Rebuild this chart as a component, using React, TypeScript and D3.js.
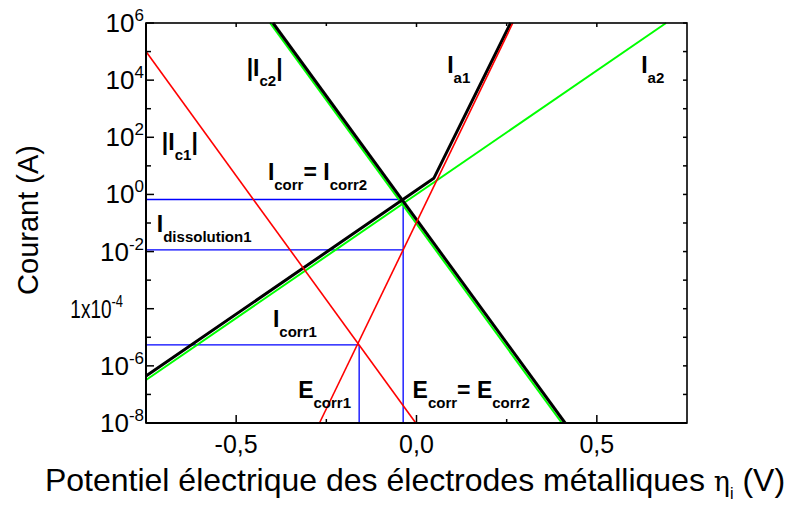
import React from 'react';
import * as d3 from 'd3';

// ---------- data ----------
const xDomain = [-0.75, 0.75];
const yDomain = [1e-8, 1e6];
const xMajorTicks = [-0.5, 0, 0.5];
const xTickLabels = ['-0,5', '0,0', '0,5'];
const xMinorTicks = [-0.25, 0.25];
const yMajorExps = [-8, -6, -4, -2, 0, 2, 4, 6];
const yTickBases = ['10', '10', '1x10', '10', '10', '10', '10', '10'];
const yTickSups = ['-8', '-6', '-4', '-2', '0', '2', '4', '6'];
const yMinorExps = [-7, -5, -3, -1, 1, 3, 5];

// Red: metal 1 partial currents
const ic1Eta = [-0.75, -0.002];
const ic1I = [1e5, 1e-8];
const ia1Eta = [-0.269, 0.267];
const ia1I = [1e-8, 1e6];
// Green: metal 2 partial currents
const ic2Eta = [-0.406, 0.403];
const ic2I = [1e6, 1e-8];
const ia2Eta = [-0.75, 0.692];
const ia2I = [3.2e-7, 1e6];
// Black: total currents
const tcEta = [-0.398, 0.412];
const tcI = [1e6, 1e-8];
const taEta = [-0.75, 0.048, 0.261];
const taI = [4.4e-7, 3.66, 1e6];
// Blue guides
const eCorr1 = -0.159;
const iCorr1 = 5.4e-6;
const eCorr = -0.037;
const iCorr = 0.665;
const iDiss1 = 0.0114;

// ---------- layout ----------
const W = 794;
const H = 506;
const L = 146, R = 687, T = 23, B = 423;
const FONT = "'Liberation Sans', Arial, sans-serif";

const x = d3.scaleLinear().domain(xDomain).range([L, R]);
const y = d3.scaleLog().domain(yDomain).range([B, T]);

const line = d3.line<[number, number]>().x(d => x(d[0])).y(d => y(d[1]));
const zip = (a: number[], b: number[]) => a.map((v, i) => [v, b[i]] as [number, number]);

type Part = { t: string; sub?: boolean };
function Label({ eta, cur, parts }: { eta: number; cur: number; parts: Part[] }) {
  let prevSub = false;
  return (
    <text x={x(eta)} y={y(cur)} fontFamily={FONT} fontWeight="bold" fontSize={23} fill="#000">
      {parts.map((p, i) => {
        let dy = 0;
        if (p.sub && !prevSub) dy = 10;
        if (!p.sub && prevSub) dy = -10;
        prevSub = !!p.sub;
        return (
          <tspan key={i} dy={dy} fontSize={p.sub ? 15 : 23}>
            {p.t}
          </tspan>
        );
      })}
    </text>
  );
}

export default function App() {
  return (
    <svg width={W} height={H} style={{ position: 'absolute', left: 0, top: 0, background: '#fff' }}>
      <rect x={0} y={0} width={W} height={H} fill="#fff" />
      {/* blue guides */}
      <g stroke="#0000ff" strokeWidth={1.3} fill="none">
        <line x1={x(xDomain[0])} x2={x(eCorr1)} y1={y(iCorr1)} y2={y(iCorr1)} />
        <line x1={x(eCorr1)} x2={x(eCorr1)} y1={y(iCorr1)} y2={y(yDomain[0])} />
        <line x1={x(xDomain[0])} x2={x(eCorr)} y1={y(iCorr)} y2={y(iCorr)} />
        <line x1={x(xDomain[0])} x2={x(eCorr)} y1={y(iDiss1)} y2={y(iDiss1)} />
        <line x1={x(eCorr)} x2={x(eCorr)} y1={y(iCorr)} y2={y(yDomain[0])} />
      </g>
      {/* green */}
      <g stroke="#00ff00" strokeWidth={2} fill="none">
        <path d={line(zip(ic2Eta, ic2I)) || ''} />
        <path d={line(zip(ia2Eta, ia2I)) || ''} />
      </g>
      {/* black */}
      <g stroke="#000" strokeWidth={3} fill="none" strokeLinejoin="miter">
        <path d={line(zip(tcEta, tcI)) || ''} />
        <path d={line(zip(taEta, taI)) || ''} />
      </g>
      {/* red */}
      <g stroke="#ff0000" strokeWidth={1.6} fill="none">
        <path d={line(zip(ic1Eta, ic1I)) || ''} />
        <path d={line(zip(ia1Eta, ia1I)) || ''} />
      </g>

      {/* frame */}
      <rect x={L} y={T} width={R - L} height={B - T} fill="none" stroke="#000" strokeWidth={1.6} />
      <line x1={L} x2={L} y1={T} y2={B} stroke="#000" strokeWidth={2} />
      <line x1={L} x2={R} y1={B} y2={B} stroke="#000" strokeWidth={2} />

      {/* ticks */}
      <g stroke="#000" strokeWidth={1.5}>
        {xMajorTicks.map(v => (
          <g key={'xm' + v}>
            <line x1={x(v)} x2={x(v)} y1={B} y2={B - 8} />
            <line x1={x(v)} x2={x(v)} y1={T} y2={T + 4} />
          </g>
        ))}
        {xMinorTicks.map(v => (
          <g key={'xn' + v}>
            <line x1={x(v)} x2={x(v)} y1={B} y2={B - 4} />
            <line x1={x(v)} x2={x(v)} y1={T} y2={T + 3} />
          </g>
        ))}
        {yMajorExps.map(e => (
          <g key={'ym' + e}>
            <line x1={L} x2={L + 8} y1={y(Math.pow(10, e))} y2={y(Math.pow(10, e))} />
            <line x1={R} x2={R - 4} y1={y(Math.pow(10, e))} y2={y(Math.pow(10, e))} />
          </g>
        ))}
        {yMinorExps.map(e => (
          <g key={'yn' + e}>
            <line x1={L} x2={L + 5} y1={y(Math.pow(10, e))} y2={y(Math.pow(10, e))} />
            <line x1={R} x2={R - 4} y1={y(Math.pow(10, e))} y2={y(Math.pow(10, e))} />
          </g>
        ))}
      </g>

      {/* tick labels */}
      <g fontFamily={FONT} fill="#000">
        {xMajorTicks.map((v, i) => (
          <text key={'xl' + v} x={x(v)} y={B + 30} textAnchor="middle" fontSize={25}>
            {xTickLabels[i]}
          </text>
        ))}
        {yMajorExps.map((e, i) =>
          yTickBases[i] === '1x10' ? (
            <text
              key={'yl' + e}
              transform={`translate(123,${y(Math.pow(10, e)) + 9}) scale(0.76,1)`}
              textAnchor="end"
              fontSize={25}
            >
              <tspan>{yTickBases[i]}</tspan>
              <tspan fontSize={17} dy={-11}>{yTickSups[i]}</tspan>
            </text>
          ) : (
            <text key={'yl' + e} x={144} y={y(Math.pow(10, e)) + 9} textAnchor="end" fontSize={26}>
              <tspan>{yTickBases[i]}</tspan>
              <tspan fontSize={17} dy={-11}>{yTickSups[i]}</tspan>
            </text>
          )
        )}
      </g>

      {/* axis titles */}
      <text transform={`translate(38,220) rotate(-90)`} textAnchor="middle" fontFamily={FONT} fontSize={29} fill="#000">
        Courant (A)
      </text>
      <text x={415} y={491} textAnchor="middle" fontFamily={FONT} fontSize={32} fill="#000">
        <tspan>Potentiel électrique des électrodes métalliques </tspan>
        <tspan fontFamily="'DejaVu Serif', serif" fontSize={27}>η</tspan>
        <tspan fontSize={16} dy={8}>i</tspan>
        <tspan dy={-8}> (V)</tspan>
      </text>

      {/* annotations */}
      <Label eta={-0.471} cur={Math.pow(10, 4.145)} parts={[{ t: '|I' }, { t: 'c2', sub: true }, { t: '|' }]} />
      <Label eta={0.085} cur={Math.pow(10, 4.26)} parts={[{ t: 'I' }, { t: 'a1', sub: true }]} />
      <Label eta={0.623} cur={Math.pow(10, 4.26)} parts={[{ t: 'I' }, { t: 'a2', sub: true }]} />
      <Label eta={-0.706} cur={Math.pow(10, 1.555)} parts={[{ t: '|I' }, { t: 'c1', sub: true }, { t: '|' }]} />
      <Label eta={-0.412} cur={Math.pow(10, 0.505)} parts={[{ t: 'I' }, { t: 'corr', sub: true }, { t: '= I' }, { t: 'corr2', sub: true }]} />
      <Label eta={-0.72} cur={Math.pow(10, -1.305)} parts={[{ t: 'I' }, { t: 'dissolution1', sub: true }]} />
      <Label eta={-0.398} cur={Math.pow(10, -4.64)} parts={[{ t: 'I' }, { t: 'corr1', sub: true }]} />
      <Label eta={-0.328} cur={Math.pow(10, -7.115)} parts={[{ t: 'E' }, { t: 'corr1', sub: true }]} />
      <Label eta={-0.011} cur={Math.pow(10, -7.115)} parts={[{ t: 'E' }, { t: 'corr', sub: true }, { t: '= E' }, { t: 'corr2', sub: true }]} />
    </svg>
  );
}
